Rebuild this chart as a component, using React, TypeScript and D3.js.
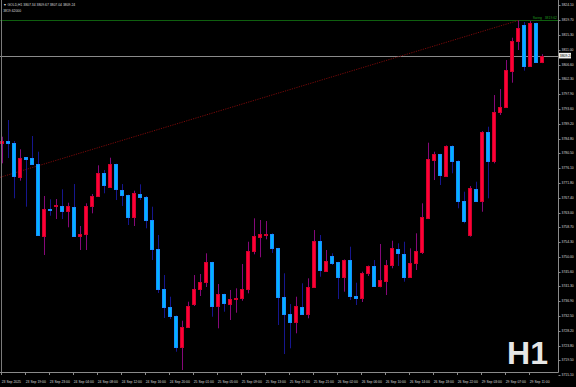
import React from 'react';
import * as d3 from 'd3';

// ---- Data (GOLD H1) ----
const opens = [
  3783.41, 3784.09, 3783.59, 3773.57, 3779.29, 3779.00, 3777.23, 3756.19, 3764.06, 3764.94,
  3764.94, 3763.56, 3764.74, 3756.19, 3756.61, 3764.94, 3767.89, 3774.58, 3770.63, 3777.23,
  3769.66, 3768.09, 3761.79, 3768.48, 3767.68, 3760.82, 3752.27, 3740.58, 3735.10, 3732.54,
  3723.49, 3729.38, 3736.16, 3740.58, 3742.46, 3748.36, 3735.57, 3738.93, 3736.07, 3737.54,
  3737.93, 3740.40, 3751.77, 3755.90, 3756.49, 3756.69, 3752.48, 3738.22, 3733.04, 3730.86,
  3735.28, 3733.13, 3741.17, 3754.72, 3745.88, 3750.21, 3748.36, 3744.11, 3749.03, 3738.52,
  3737.93, 3745.12, 3747.27, 3741.37, 3742.85, 3747.56, 3752.27, 3750.80, 3744.11, 3748.06,
  3751.48, 3761.32, 3778.49, 3780.17, 3773.87, 3782.62, 3778.20, 3766.42, 3756.40, 3770.04,
  3766.50, 3786.83, 3778.20, 3792.55, 3794.20, 3804.80, 3813.55, 3818.26, 3806.19, 3818.77,
  3807.34,
];
const highs = [
  3785.36, 3790.28, 3784.09, 3781.65, 3779.38, 3785.56, 3780.94, 3767.89, 3766.92, 3767.00,
  3769.86, 3765.91, 3771.42, 3759.05, 3765.74, 3768.48, 3776.93, 3775.55, 3779.17, 3777.40,
  3771.42, 3768.30, 3769.45, 3771.33, 3767.90, 3764.74, 3756.40, 3744.61, 3738.22, 3732.70,
  3731.15, 3736.75, 3744.61, 3744.91, 3751.01, 3748.50, 3741.96, 3739.10, 3740.20, 3740.70,
  3747.86, 3754.42, 3761.32, 3760.82, 3760.52, 3756.90, 3752.60, 3745.12, 3736.07, 3738.22,
  3742.17, 3743.64, 3757.87, 3756.40, 3751.98, 3751.01, 3748.50, 3749.20, 3752.95, 3742.35,
  3745.59, 3747.40, 3749.03, 3753.75, 3749.03, 3754.72, 3753.95, 3754.42, 3752.48, 3756.90,
  3765.74, 3783.59, 3780.94, 3780.30, 3782.80, 3782.80, 3778.40, 3769.16, 3770.83, 3772.10,
  3787.00, 3788.30, 3797.64, 3799.41, 3807.95, 3814.52, 3819.62, 3819.15, 3819.44, 3818.94,
  3809.67,
];
const lows = [
  3777.52, 3779.08, 3767.21, 3772.40, 3764.74, 3777.02, 3756.10, 3750.51, 3762.08, 3761.11,
  3761.11, 3758.67, 3756.00, 3751.98, 3751.98, 3762.79, 3767.68, 3768.68, 3770.33, 3766.71,
  3764.94, 3759.34, 3759.05, 3766.71, 3758.37, 3749.03, 3739.31, 3731.95, 3731.65, 3722.02,
  3716.63, 3729.00, 3735.48, 3738.43, 3741.08, 3732.33, 3728.91, 3733.80, 3731.36, 3733.51,
  3737.04, 3739.22, 3750.71, 3749.83, 3755.13, 3751.10, 3729.88, 3721.34, 3723.02, 3727.44,
  3732.90, 3731.86, 3740.99, 3744.11, 3745.59, 3747.56, 3737.54, 3739.70, 3737.24, 3735.78,
  3736.66, 3744.32, 3741.20, 3740.99, 3738.72, 3746.59, 3747.27, 3742.64, 3743.90, 3746.09,
  3750.80, 3761.10, 3772.60, 3771.13, 3773.70, 3774.58, 3764.27, 3759.85, 3755.90, 3766.30,
  3763.26, 3767.21, 3777.52, 3791.75, 3793.81, 3801.27, 3810.90, 3804.80, 3805.98, 3807.10,
  3807.04,
];
const closes = [
  3784.18, 3783.59, 3773.78, 3779.00, 3778.88, 3777.23, 3756.40, 3763.97, 3763.76, 3765.24,
  3763.56, 3764.94, 3756.19, 3756.61, 3765.03, 3767.89, 3774.58, 3771.04, 3777.23, 3769.86,
  3768.18, 3761.79, 3768.68, 3767.68, 3760.82, 3752.27, 3740.58, 3735.10, 3732.62, 3723.49,
  3729.38, 3735.48, 3740.58, 3742.46, 3748.53, 3735.57, 3738.93, 3736.28, 3737.54, 3737.93,
  3740.40, 3751.77, 3756.10, 3756.69, 3756.78, 3752.66, 3738.22, 3733.04, 3730.86, 3735.48,
  3733.13, 3741.17, 3754.72, 3746.09, 3748.83, 3748.24, 3744.11, 3749.03, 3738.52, 3737.75,
  3745.12, 3747.27, 3741.37, 3743.14, 3747.56, 3752.48, 3751.01, 3744.11, 3748.06, 3751.69,
  3761.61, 3778.70, 3780.17, 3774.07, 3782.62, 3778.29, 3766.50, 3760.61, 3770.16, 3766.50,
  3786.83, 3778.29, 3792.55, 3794.20, 3805.01, 3813.55, 3817.47, 3806.19, 3818.77, 3807.34,
  3809.24,
];

const priceTicks = [
  "3824.10", "3819.70", "3815.30", "3811.00", "3806.60", "3802.30", "3797.90", "3793.60",
  "3789.20", "3784.80", "3780.50", "3776.10", "3771.80", "3767.40", "3763.00", "3758.70",
  "3754.30", "3750.00", "3745.60", "3741.30", "3736.90", "3732.50", "3728.20", "3723.80",
  "3719.50", "3715.10",
];

const timeLabels = [
  "23 Sep 2025", "23 Sep 19:00", "23 Sep 23:00", "24 Sep 04:00", "24 Sep 08:00", "24 Sep 12:00",
  "24 Sep 16:00", "24 Sep 20:00", "25 Sep 01:00", "25 Sep 05:00", "25 Sep 09:00", "25 Sep 13:00",
  "25 Sep 17:00", "25 Sep 21:00", "26 Sep 02:00", "26 Sep 06:00", "26 Sep 10:00", "26 Sep 14:00",
  "26 Sep 18:00", "26 Sep 22:00", "29 Sep 03:00", "29 Sep 07:00", "29 Sep 11:00",
];
const timeLabelStep = 4;

const symbolName = "GOLD,H1";
const swingLabel = "Swing";
const swingPrice = 3819.62;
const swingText = "3819.62000";
const trendIndex = [-0.4, 86];
const trendPrice = [3773.4, 3819.62];
const timeframeText = "H1";

const FONT = "'Liberation Sans', Arial, sans-serif";

export default function App() {
  const W = 576;
  const H = 387;
  const plotRight = 558.5;
  const plotBottom = 372.5;
  const n = closes.length;

  const y = d3.scaleLinear().domain([3715.1, 3824.1]).range([375.2, 5.2]);
  const x = d3.scaleLinear().domain([0, n - 1]).range([2.5, 542.5]);

  const last = n - 1;
  const lastPrice = closes[last];
  const fmt = d3.format(".2f");

  const trendLine = d3
    .line<number>()
    .x((d, i) => x(trendIndex[i]))
    .y((d) => y(d));

  const candles = d3.range(n).map((i) => {
    const o = opens[i], h = highs[i], l = lows[i], c = closes[i];
    const bull = c >= o;
    const col = Math.floor(x(i));
    const top = Math.round(y(Math.max(o, c)));
    const bot = Math.round(y(Math.min(o, c)));
    return { i, bull, col, top, bot, hy: y(h), ly: y(l) };
  });

  const txt = { fontFamily: FONT, fontSize: 3.4, fill: "#d8d8d8" } as const;

  return (
    <svg
      width={W}
      height={H}
      style={{ position: "absolute", left: 0, top: 0, display: "block", background: "#000" }}
    >
      <rect x={0} y={0} width={W} height={H} fill="#000" />

      {/* swing horizontal line */}
      <line x1={0} x2={plotRight} y1={Math.round(y(swingPrice)) + 0.5} y2={Math.round(y(swingPrice)) + 0.5}
        stroke="#0f5f0f" strokeWidth={1} />
      {/* current price line */}
      <line x1={0} x2={plotRight} y1={Math.round(y(lastPrice)) + 0.5} y2={Math.round(y(lastPrice)) + 0.5}
        stroke="#8a8a8a" strokeWidth={1} />

      {/* trend line */}
      <path d={trendLine(trendPrice) || ""} fill="none" stroke="#7a0a0a" strokeWidth={1}
        strokeDasharray="1.2,1.2" />

      {/* candles */}
      {candles.map((cd) => (
        <g key={cd.i}>
          <line
            x1={cd.col + 0.5} x2={cd.col + 0.5} y1={cd.hy} y2={cd.ly}
            stroke={cd.bull ? "#86087a" : "#16168e"} strokeWidth={1}
          />
          <rect
            x={cd.col - 1.5}
            y={cd.top + 0.5}
            width={3}
            height={Math.max(0.01, cd.bot - cd.top)}
            fill={cd.bull ? "#ff0035" : "#00b4ff"}
            stroke={cd.bull ? "#d2002c" : "#1a8cff"}
            strokeWidth={1}
          />
        </g>
      ))}

      {/* swing label */}
      <text x={542} y={y(swingPrice) - 1.6} textAnchor="end" style={{ ...txt, fill: "#1f9a1f" }}>{swingLabel}</text>
      <text x={557} y={y(swingPrice) - 1.6} textAnchor="end" style={{ ...txt, fill: "#1f9a1f" }}>{fmt(swingPrice)}</text>

      {/* frame */}
      <line x1={1.5} x2={1.5} y1={0} y2={plotBottom} stroke="#7a7a7a" strokeWidth={1} />
      <line x1={plotRight} x2={plotRight} y1={0} y2={plotBottom} stroke="#8a8a8a" strokeWidth={1} />
      <line x1={0} x2={plotRight} y1={plotBottom} y2={plotBottom} stroke="#8a8a8a" strokeWidth={1} />

      {/* right price axis */}
      {priceTicks.map((t) => {
        const yy = y(+t);
        return (
          <g key={t}>
            <line x1={plotRight} x2={plotRight + 2} y1={Math.round(yy) + 0.5} y2={Math.round(yy) + 0.5}
              stroke="#8a8a8a" strokeWidth={1} />
            <text x={561.5} y={yy + 1.2} style={txt}>{t}</text>
          </g>
        );
      })}

      {/* last price label */}
      <rect x={559} y={y(lastPrice) - 2.8} width={12} height={5.6} fill="#f2f2f2" />
      <text x={559.8} y={y(lastPrice) + 1.2} style={{ ...txt, fill: "#000" }}>{fmt(lastPrice)}</text>

      {/* bottom time axis */}
      {timeLabels.map((t, k) => {
        const xx = x(k * timeLabelStep);
        return (
          <g key={t}>
            <line x1={Math.floor(xx) - 0.5} x2={Math.floor(xx) - 0.5} y1={plotBottom} y2={plotBottom + 2.5}
              stroke="#8a8a8a" strokeWidth={1} />
            <text x={xx - 0.8} y={382.5} style={txt}>{t}</text>
          </g>
        );
      })}

      {/* header */}
      <text x={3.2} y={6.2} style={txt}>
        {"\u25BC " + symbolName + "  " + [opens[last], highs[last], lows[last], closes[last]].map(fmt).join(" ")}
      </text>
      <text x={3.2} y={12.2} style={txt}>{swingText}</text>

      {/* timeframe watermark */}
      <text x={548} y={364} textAnchor="end"
        style={{ fontFamily: FONT, fontSize: 32, fontWeight: "bold", fill: "#e6e6e6" }}>
        {timeframeText}
      </text>
    </svg>
  );
}
